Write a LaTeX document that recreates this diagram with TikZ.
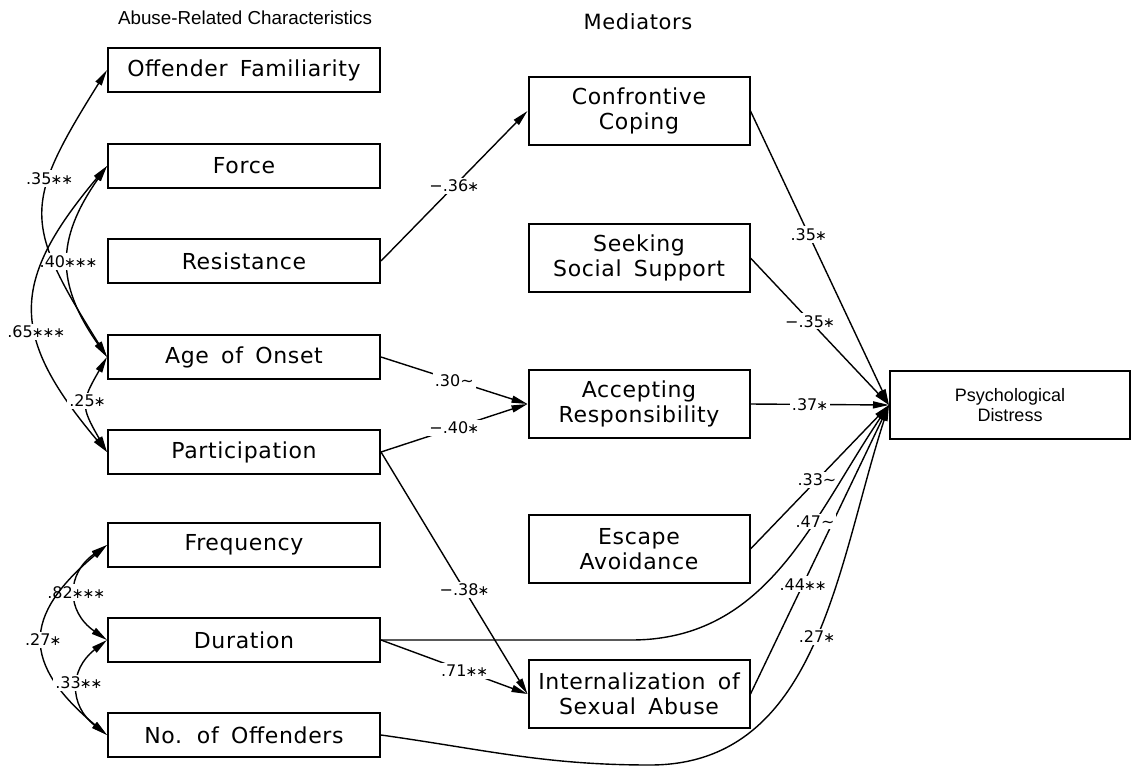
\documentclass[tikz,border=0pt]{standalone}
\usepackage{fontspec}
\usepackage{tikz}
\usetikzlibrary{arrows.meta}
\newfontfamily\boxfont{DejaVu Sans}[WordSpace=1.6,LetterSpace=3]
\newfontfamily\coeffont{DejaVu Sans}
\newfontfamily\headfont{Liberation Sans}
\newcommand{\sg}{\kern-.06em{\fontsize{7}{7}\selectfont ∗}}

\begin{document}
\begin{tikzpicture}[x=0.5pt,y=-0.5pt,
    charbox/.style={draw,line width=1pt,minimum width=136pt,minimum height=22pt,inner sep=0pt,
        font=\boxfont\fontsize{11}{13}\selectfont},
    medbox/.style={draw,line width=1pt,minimum width=110.5pt,minimum height=34pt,inner sep=0pt,
        align=center,font=\boxfont\fontsize{11}{12.5}\selectfont},
    coef/.style={fill=white,inner sep=1pt,font=\coeffont\fontsize{8}{9}\selectfont},
    eff/.style={line width=0.7pt,-{Triangle[length=8pt,width=3.5pt]}},
    corr/.style={line width=0.7pt,{Triangle[length=8pt,width=3.5pt]}-{Triangle[length=8pt,width=3.5pt]}}]
    \useasboundingbox (0,0) rectangle (1131,767);

    % x-positions of the three columns
    \def\xchar{244}
    \def\xmed{639}

    % headings
    \node[font=\headfont\fontsize{9.4}{11}\selectfont] (headchar) at (245,18) {Abuse-Related Characteristics};
    \node[font=\boxfont\fontsize{10.5}{12}\selectfont] (headmed) at (638,22) {Mediators};

    % abuse-related characteristics
    \node[charbox] (fam)  at (\xchar,70)  {Offender Familiarity};
    \node[charbox] (frc)  at (\xchar,166) {Force};
    \node[charbox] (res)  at (\xchar,261) {Resistance};
    \node[charbox] (age)  at (\xchar,357) {Age of Onset};
    \node[charbox] (part) at (\xchar,452) {Participation};
    \node[charbox] (freq) at (\xchar,545) {Frequency};
    \node[charbox] (dur)  at (\xchar,640) {Duration};
    \node[charbox] (noff) at (\xchar,735) {No. of Offenders};

    % mediators
    \node[medbox] (cope) at (\xmed,111) {Confrontive\\Coping};
    \node[medbox] (supp) at (\xmed,258) {Seeking\\Social Support};
    \node[medbox] (resp) at (\xmed,404) {Accepting\\Responsibility};
    \node[medbox] (esc)  at (\xmed,549) {Escape\\Avoidance};
    \node[medbox] (intl) at (\xmed,694) {Internalization of\\Sexual Abuse};

    % outcome
    \node[draw,line width=1pt,minimum width=120pt,minimum height=34pt,align=center,
          font=\headfont\fontsize{9}{10}\selectfont] (pd) at (1010,405) {Psychological\\Distress};

    % correlations among characteristics
    \draw[corr] (fam.west) to[out=238,in=122,looseness=1.42] node[coef,pos=.35] {.35\sg\sg} (age.west);
    \draw[corr] (frc.west) to[out=235,in=125,looseness=1.2] node[coef,pos=.5] {.40\sg\sg\sg} (age.west);
    \draw[corr] (frc.west) to[out=230,in=130,looseness=1.36] node[coef,pos=.59] {.65\sg\sg\sg} (part.west);
    \draw[corr] (age.west) to[out=240,in=120,looseness=1.42] node[coef,pos=.45] {.25\sg} (part.west);
    \draw[corr] (freq.west) to[out=215,in=145,looseness=1.35] node[coef,pos=.5] {.82\sg\sg\sg} (dur.west);
    \draw[corr] (freq.west) to[out=220,in=140,looseness=1.5] node[coef,pos=.5] {.27\sg} (noff.west);
    \draw[corr] (dur.west) to[out=218,in=142,looseness=1.3] node[coef,pos=.45] {.33\sg\sg} (noff.west);

    % paths to mediators
    \draw[eff] (res.east) -- node[coef,pos=.5] {−.36\sg} (cope.west);
    \draw[eff] (age.east) -- node[coef,pos=.5] {.30∼} (resp.west);
    \draw[eff] (part.east) -- node[coef,pos=.5] {−.40\sg} (resp.west);
    \draw[eff] (part.east) -- node[coef,pos=.57] {−.38\sg} (intl.west);
    \draw[eff] (dur.east) -- node[coef,pos=.57] {.71\sg\sg} (intl.west);

    % paths to psychological distress
    \draw[eff] (cope.east) -- node[coef,pos=.42] {.35\sg} (pd.west);
    \draw[eff] (supp.east) -- node[coef,pos=.43] {−.35\sg} (pd.west);
    \draw[eff] (resp.east) -- node[coef,pos=.43] {.37\sg} (pd.west);
    \draw[eff] (esc.east) -- node[coef,pos=.48] {.33∼} (pd.west);
    \draw[eff] (intl.east) -- node[coef,pos=.38] {.44\sg\sg} (pd.west);
    \draw[eff] (dur.east) -- ++(250,0) to[out=0,in=236] node[coef,pos=.65] {.47∼} (pd.west);
    \coordinate (low) at (650,765);
    \draw[eff] (noff.east) to[out=-8,in=180] (low) to[out=0,in=252] node[coef,pos=.52] {.27\sg} (pd.west);
\end{tikzpicture}
\end{document}
